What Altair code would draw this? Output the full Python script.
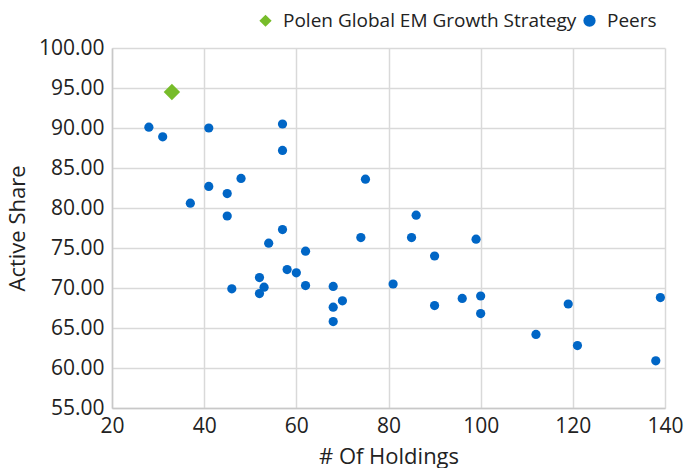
import altair as alt
import pandas as pd

# Polen Global EM Growth Strategy
strategy_holdings = [33]
strategy_active_share = [94.5]

# Peer funds
peer_holdings = [28, 31, 41, 57, 57, 48, 41, 45, 37, 45,
                 75, 57, 54, 74, 62, 86, 85, 99, 90, 60,
                 62, 68, 81, 70, 68, 68, 90, 96, 100, 100,
                 112, 119, 121, 138, 139, 46, 52, 53, 52, 58]
peer_active_share = [90.1, 88.9, 90.0, 90.5, 87.2, 83.7, 82.7, 81.8, 80.6, 79.0,
                     83.6, 77.3, 75.6, 76.3, 74.6, 79.1, 76.3, 76.1, 74.0, 71.9,
                     70.3, 70.2, 70.5, 68.4, 67.6, 65.8, 67.8, 68.7, 69.0, 66.8,
                     64.2, 68.0, 62.8, 60.9, 68.8, 69.9, 71.3, 70.1, 69.3, 72.3]

x_ticks = [20, 40, 60, 80, 100, 120, 140]
y_ticks = [55, 60, 65, 70, 75, 80, 85, 90, 95, 100]

series_names = ["Polen Global EM Growth Strategy", "Peers"]
series_colors = ["#77bc2a", "#0066c6"]
series_shapes = ["diamond", "circle"]

df = pd.concat([
    pd.DataFrame({"holdings": strategy_holdings, "active": strategy_active_share,
                  "series": series_names[0]}),
    pd.DataFrame({"holdings": peer_holdings, "active": peer_active_share,
                  "series": series_names[1]}),
])

FONT = "Open Sans"
TEXT = "#222222"

base = alt.Chart(df).encode(
    x=alt.X("holdings:Q", title="# Of Holdings",
            scale=alt.Scale(domain=[20, 140], nice=False),
            axis=alt.Axis(values=x_ticks, tickCount=7)),
    y=alt.Y("active:Q", title="Active Share",
            scale=alt.Scale(domain=[55, 100], nice=False, zero=False),
            axis=alt.Axis(values=y_ticks, tickCount=10, format=".2f")),
    color=alt.Color(
        "series:N",
        scale=alt.Scale(domain=series_names, range=series_colors),
        legend=alt.Legend(title=None, orient="none", direction="horizontal",
                          legendX=144, legendY=-37,
                          symbolSize=150, labelFontSize=19, labelFont=FONT,
                          labelColor=TEXT, columnPadding=3, labelOffset=8,
                          symbolStrokeWidth=0, labelLimit=400),
    ),
    shape=alt.Shape("series:N", scale=alt.Scale(domain=series_names, range=series_shapes),
                    legend=None),
)

peers = base.transform_filter(alt.datum.series == "Peers").mark_point(
    filled=True, opacity=1, size=85
)

strategy = base.transform_filter(alt.datum.series != "Peers").mark_point(
    filled=True, opacity=1, size=270
)

chart = alt.layer(peers, strategy).properties(
    width=553, height=360,
    autosize=alt.AutoSizeParams(type="none"),
    padding={"left": 112, "top": 48, "right": 22, "bottom": 60},
).configure_view(stroke=None).configure_axis(
    labelFont=FONT, titleFont=FONT, labelFontSize=21, titleFontSize=22,
    labelColor=TEXT, titleColor=TEXT, titleFontWeight="normal",
    gridColor="#d9d9d9", gridWidth=1.5, domainColor="#c8c8c8", domainWidth=1.5,
    ticks=False, labelOverlap=False, labelFlush=False, labelBound=False,
).configure_axisX(labelPadding=7, titlePadding=10).configure_axisY(
    labelPadding=8, titlePadding=9
)

chart.save("out.html", embed_options={"renderer": "svg", "actions": False})
